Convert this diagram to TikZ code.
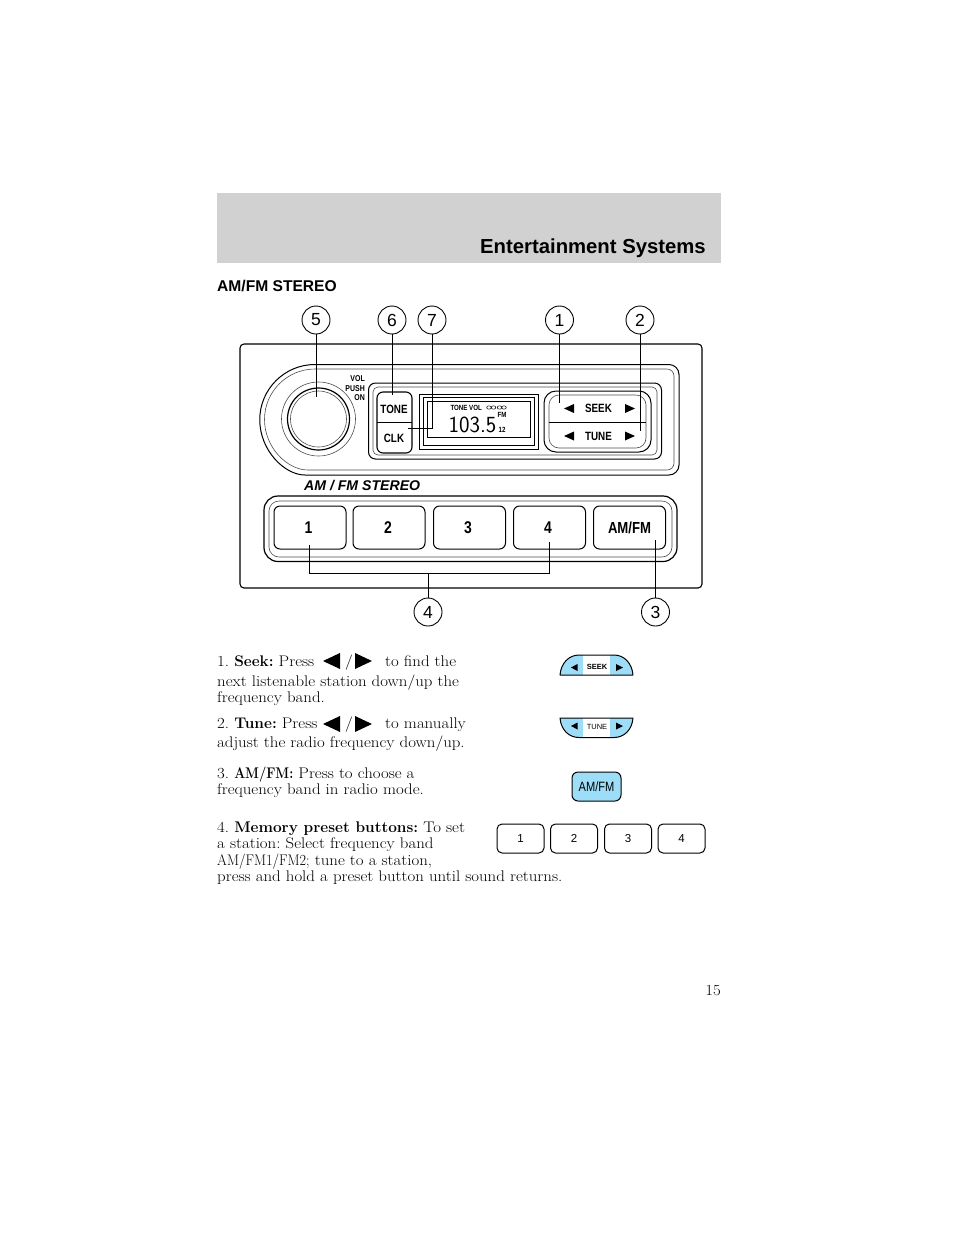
\documentclass[tikz,border=0pt]{standalone}
\usepackage{fontspec}
\setmainfont[FakeStretch=1.095,BoldFeatures={FakeStretch=1.0}]{Latin Modern Roman}
\newfontfamily\headfont{Liberation Sans}
\newfontfamily\panelfont[FakeStretch=0.82]{Liberation Sans}
\newfontfamily\lcdfont[FakeStretch=1.25]{Latin Modern Sans}
\usepackage{tikz}
\usetikzlibrary{positioning,calc}
\definecolor{headgray}{HTML}{D1D1D1}
\definecolor{iconblue}{HTML}{9EDDF7}
\newcommand{\fsz}[1]{\fontsize{#1}{#1}\selectfont}
\newcommand{\triL}[4]{\fill (#1,#2) -- (#3,#4) -- (#3,2*#2-#4) -- cycle;}
\newcommand{\triR}[4]{\fill (#1,#2) -- (#3,#4) -- (#3,2*#2-#4) -- cycle;}
\frenchspacing
\tikzset{
  callout/.style={circle,draw,line width=0.9pt,minimum size=28pt,inner sep=0pt,font=\headfont\fsz{17.5}},
  leader/.style={line width=1pt},
  rim/.style={line width=1pt},
  thinrim/.style={line width=0.6pt,draw=black!70},
  pbtn/.style={rectangle,draw,line width=1pt,rounded corners=6pt,minimum width=72pt,minimum height=43pt,inner sep=0pt,font=\panelfont\bfseries\fsz{17}},
  mbtn/.style={rectangle,draw,line width=1pt,rounded corners=5pt,minimum width=47pt,minimum height=29pt,inner sep=0pt,font=\headfont\fsz{11.5}},
  plab/.style={inner sep=0pt,font=\panelfont\bfseries\fsz{12}},
  tiny/.style={inner sep=0pt,font=\panelfont\bfseries\fsz{7.5}},
  bodyline/.style={anchor=base west,inner sep=0pt,font=\fsz{15.4}}
}
\begin{document}
\begin{tikzpicture}[x=1pt,y=-1pt]
\useasboundingbox (0,0) rectangle (954,1235);
\fill[headgray] (217,193) rectangle (721,263);
\node[anchor=base east,inner sep=0pt,font=\headfont\bfseries\fsz{20.3}] (title) at (706,253) {Entertainment Systems};
\node[anchor=base west,inner sep=0pt,font=\headfont\bfseries\fsz{15.6}] (section) at (217,291) {AM/FM STEREO};
% radio panel
\draw[line width=1.1pt,rounded corners=4pt] (240,344) rectangle (702,588);
\draw[rim,rounded corners=10pt] (315,364.5) -- (679,364.5) -- (679,475) -- (315,475) [sharp corners] arc[start angle=90,end angle=270,radius=55.25];
\draw[thinrim,rounded corners=7pt] (315,369) -- (674,369) -- (674,470) -- (315,470) [sharp corners] arc[start angle=90,end angle=270,radius=50.5];
\draw[rim,rounded corners=7pt] (368.5,383) rectangle (661.5,459);
\draw[thinrim,rounded corners=5pt] (373,387) rectangle (657,455);
% knob
\draw[thinrim] (318.5,419) circle[radius=37];
\draw[line width=1.2pt] (318.5,419) circle[radius=31];
\draw[thinrim] (318.5,419) circle[radius=28];
\node[inner sep=0pt,anchor=base east,font=\panelfont\bfseries\fsz{8.5}] (vol) at (365,381.5) {VOL};
\node[inner sep=0pt,anchor=base east,font=\panelfont\bfseries\fsz{8.5}] (push) at (365,391) {PUSH};
\node[inner sep=0pt,anchor=base east,font=\panelfont\bfseries\fsz{8.5}] (on) at (365,400.5) {ON};
% tone and clock
\draw[line width=1.1pt,rounded corners=6pt] (377,392) rectangle (412,453);
\draw[line width=0.8pt] (377,422) -- (412,422);
\node[plab] (tone) at (394,409) {TONE};
\node[plab] (clk) at (394,438) {CLK};
% display
\draw[rim] (419,394) rectangle (538,449);
\draw[rim] (423,397.5) rectangle (534,445.5);
\draw[line width=0.8pt] (427,401) rectangle (530,437);
\node[tiny] (lcdtone) at (459,408) {TONE};
\node[tiny] (lcdvol) at (475.5,408) {VOL};
\node[tiny] (lcdfm) at (502,414.5) {FM};
\node[tiny] (lcdband) at (502,429.5) {12};
\node[inner sep=0pt,anchor=base,font=\lcdfont\fsz{21}] (lcd) at (472.5,432) {\scalebox{0.85}[1.1]{103.5}};
\foreach \ex in {489,493.5,499.5,504}
  \draw[line width=0.5pt] (\ex,407.5) ellipse[x radius=2.3,y radius=1.7];
% seek and tune
\draw[rim,rounded corners=12pt] (544,391) rectangle (651,452);
\draw[thinrim,rounded corners=10pt] (549,395) rectangle (646,448);
\draw[line width=0.8pt] (549,422) -- (646,422);
\node[plab] (seek) at (598.5,408) {SEEK};
\node[plab] (tune) at (598.5,436) {TUNE};
\triL{564}{408.5}{574}{404}
\triR{635}{408.5}{625}{404}
\triL{564}{436}{574}{431.5}
\triR{635}{436}{625}{431.5}
% lower tray
\node[inner sep=0pt,anchor=base west,font=\headfont\bfseries\itshape\fsz{14.1}] (model) at (304,490.5) {AM / FM STEREO};
\draw[line width=1.2pt,rounded corners=14pt] (264,496) rectangle (677,561.5);
\draw[thinrim,rounded corners=10pt] (269,501) rectangle (672,557);
\node[pbtn] (b1) at (310,527.5) {\kern-3pt 1};
\node[pbtn] (b2) at (389,527.5) {\kern-2pt 2};
\node[pbtn] (b3) at (469.5,527.5) {\kern-3pt 3};
\node[pbtn] (b4) at (549.5,527.5) {\kern-3pt 4};
\node[pbtn,font=\panelfont\bfseries\fsz{16}] (bam) at (629.5,527.5) {AM/FM};
% callouts
\node[callout] (c5) at (316,320) {5};
\node[callout] (c6) at (392,320) {6};
\node[callout] (c7) at (432,320) {7};
\node[callout] (c1) at (559.5,320) {1};
\node[callout] (c2) at (640,320) {2};
\node[callout] (c4) at (428,612) {4};
\node[callout] (c3) at (655.5,612) {3};
\coordinate (e5) at (316,397);
\coordinate (e6) at (392,395);
\coordinate (e7) at (408,428);
\coordinate (e1) at (559.5,403);
\coordinate (e2) at (640,431);
\coordinate (e3) at (655.5,540);
\coordinate (e41) at (309.5,545);
\coordinate (e42) at (549.5,542);
\coordinate (j4) at (428,573);
\draw[leader] (c5) -- (e5);
\draw[leader] (c6) -- (e6);
\draw[leader] (c7) |- (e7);
\draw[leader] (c1) -- (e1);
\draw[leader] (c2) -- (e2);
\draw[leader] (c3) -- (e3);
\draw[leader] (c4) -- (j4);
\draw[leader] (e41) -- (e41 |- j4) -- (e42 |- j4) -- (e42);
% text
\node[bodyline] (l1) at (217,666) {1. \textbf{Seek:} Press};
\node[bodyline] (s1) at (345,666) {/};
\node[bodyline] (r1) at (385,666) {to find the};
\node[bodyline] (l2) at (217,686) {next listenable station down/up the};
\node[bodyline] (l3) at (217,702) {frequency band.};
\node[bodyline] (l4) at (217,728) {2. \textbf{Tune:} Press};
\node[bodyline] (s4) at (345,728) {/};
\node[bodyline] (r4) at (385,728) {to manually};
\node[bodyline] (l5) at (217,747) {adjust the radio frequency down/up.};
\node[bodyline] (l6) at (217,778) {3. \textbf{\scalebox{0.84}[1]{AM/FM:}} Press to choose a};
\node[bodyline] (l7) at (217,794) {frequency band in radio mode.};
\node[bodyline] (l8) at (217,832) {4. \textbf{Memory preset buttons:} To set};
\node[bodyline] (l9) at (217,848) {a station: Select frequency band};
\node[bodyline] (l10) at (217,865) {\scalebox{0.84}[1]{AM/FM1/FM2;} tune to a station,};
\node[bodyline] (l11) at (217,881) {press and hold a preset button until sound returns.};
\node[inner sep=0pt,anchor=base east,font=\fsz{15.4}] (page) at (721,995) {15};
\triL{323}{661}{340}{653}
\triR{372}{661}{355}{653}
\triL{323}{724}{340}{716}
\triR{372}{724}{355}{716}
% seek icon
\fill[iconblue] (560,675) .. controls (561,663) and (569,655) .. (579,655) -- (614,655) .. controls (624,655) and (632,663) .. (633,675) -- cycle;
\fill[white] (583,655) rectangle (610,675);
\draw[line width=1pt,line join=round] (560,675) .. controls (561,663) and (569,655) .. (579,655) -- (614,655) .. controls (624,655) and (632,663) .. (633,675) -- cycle;
\node[inner sep=0pt,font=\headfont\bfseries\fsz{7.5}] (iseek) at (597,667) {SEEK};
\triL{571}{667.5}{577.5}{664}
\triR{623}{667.5}{616}{664}
% tune icon
\fill[iconblue] (560,718) .. controls (561,730) and (569,737.5) .. (579,737.5) -- (614,737.5) .. controls (624,737.5) and (632,730) .. (633,718) -- cycle;
\fill[white] (583,718) rectangle (610,737.5);
\draw[line width=1pt,line join=round] (560,718) .. controls (561,730) and (569,737.5) .. (579,737.5) -- (614,737.5) .. controls (624,737.5) and (632,730) .. (633,718) -- cycle;
\node[inner sep=0pt,font=\headfont\fsz{7.5}] (itune) at (597,726.5) {TUNE};
\triL{571}{726}{577.5}{722.5}
\triR{623}{726}{616}{722.5}
% button icons
\node[rectangle,draw,fill=iconblue,line width=1pt,rounded corners=6pt,minimum width=49pt,minimum height=29pt,inner sep=0pt,font=\panelfont\fsz{13.5}] (iam) at (596.5,786.5) {AM/FM};
\node[mbtn] (m1) at (520.5,838.5) {1};
\node[mbtn] (m2) at (574,838.5) {2};
\node[mbtn] (m3) at (628,838.5) {3};
\node[mbtn] (m4) at (681.5,838.5) {4};
\end{tikzpicture}
\end{document}
